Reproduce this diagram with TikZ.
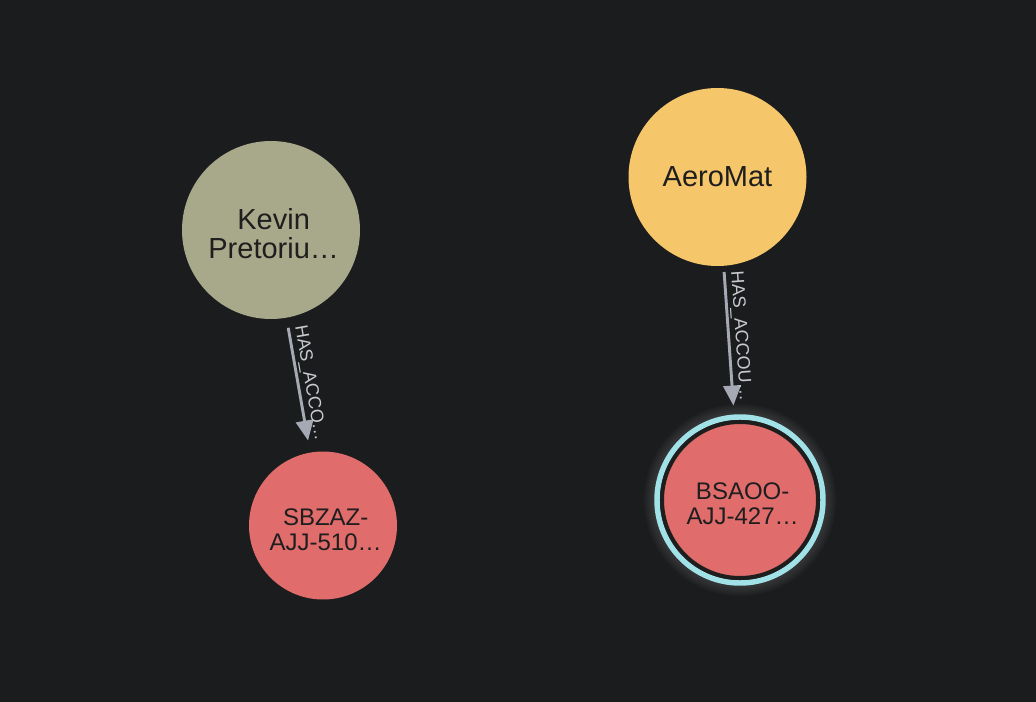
\documentclass[tikz,border=0pt]{standalone}
\usepackage{fontspec}
\setmainfont{Liberation Sans}
\usetikzlibrary{arrows.meta}
\definecolor{bg}{RGB}{27,28,30}
\definecolor{kevcol}{RGB}{168,168,138}
\definecolor{aerocol}{RGB}{246,198,106}
\definecolor{acccol}{RGB}{224,108,108}
\definecolor{ringcol}{RGB}{160,226,232}
\definecolor{edgecol}{RGB}{165,169,180}
\definecolor{labcol}{RGB}{200,202,208}
\definecolor{txtcol}{RGB}{30,30,30}
\tikzset{
  bignode/.style={circle, fill=#1, draw=none, minimum size=133.5pt, inner sep=0pt, align=center, text=txtcol,
    font=\fontsize{21.75}{21.75}\selectfont},
  smallnode/.style={circle, fill=acccol, minimum size=111pt, inner sep=0pt},
  bigtext/.style={align=center, inner sep=0pt, text=txtcol, yshift=-3pt, xshift=2pt,
    font=\fontsize{21.75}{21.75}\selectfont},
  smalltext/.style={align=center, inner sep=0pt, text=txtcol, yshift=-3pt, xshift=2pt,
    font=\fontsize{18}{18.75}\selectfont},
  rel/.style={draw=edgecol, line width=2.2pt, -{Triangle[length=15pt,width=13pt]}},
  rellabel/.style={midway, sloped, above=1.5pt, inner sep=0pt, text=labcol, font=\fontsize{13.5}{13.5}\selectfont}
}
\begin{document}
\begin{tikzpicture}[x=0.75pt,y=-0.75pt]
\fill[bg] (0,0) rectangle (1036,702);
\useasboundingbox (0,0) rectangle (1036,702);

% glow behind selected node
\foreach \r in {86,88,90,92,94,96}{
  \fill[white, opacity=0.025] (740,500) circle[radius=\r];
}

\node[bignode=kevcol, label={[bigtext]center:{Kevin\\Pretoriu…}}] (kevin) at (271,230) {};
\node[bignode=aerocol] (aero) at (717.5,177) {AeroMat};
\node[smallnode, label={[smalltext]center:{SBZAZ-\\AJJ-510…}}] (sbzaz) at (323,525.5) {};
\node[circle, draw=ringcol, line width=4.1pt, minimum size=124.5pt, inner sep=0pt] (ring) at (740,500) {};
\node[smallnode, draw=txtcol, line width=3pt, minimum size=117pt, label={[smalltext]center:{BSAOO-\\AJJ-427…}}] (bsaoo) at (740,500) {};

\draw[rel, shorten <=7.5pt, shorten >=9pt] (kevin) -- (sbzaz) node[rellabel] {HAS\_ACCO…};
\draw[rel, shorten <=4.5pt, shorten >=11pt] (aero) -- (bsaoo) node[rellabel, pos=0.46] {HAS\_ACCOU…};
\end{tikzpicture}
\end{document}
